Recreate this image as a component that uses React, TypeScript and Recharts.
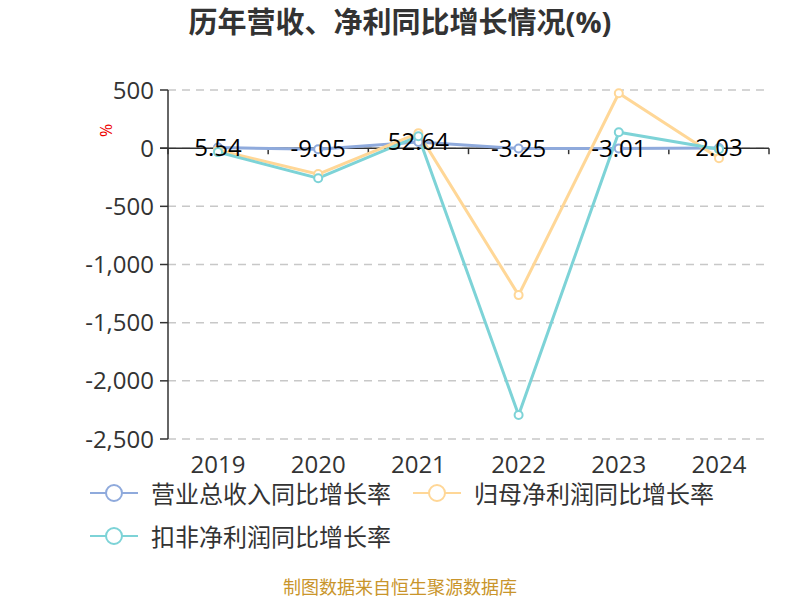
import { LineChart, Line, XAxis, YAxis, CartesianGrid, ReferenceLine, LabelList } from 'recharts';

const years = ['2019', '2020', '2021', '2022', '2023', '2024'];
const revenueGrowth = [5.54, -9.05, 52.64, -3.25, -3.01, 2.03];
const netProfitGrowth = [-17, -223, 129, -1263, 472, -86];
const deductedProfitGrowth = [-34, -258, 103, -2294, 137, -9];
const yTicks = [-2500, -2000, -1500, -1000, -500, 0, 500];

const seriesNames = ['营业总收入同比增长率', '归母净利润同比增长率', '扣非净利润同比增长率'];
const COLORS = ['#8FAADC', '#FFD797', '#7DD3D7'];

const data = years.map((year, i) => ({
    year,
    revenue: revenueGrowth[i],
    netProfit: netProfitGrowth[i],
    deducted: deductedProfitGrowth[i],
}));

const FONT = '"Open Sans", "Noto Sans CJK SC", sans-serif';

const fmt = (v: number) => v.toLocaleString('en-US');

// zero line with tick marks at the band edges
const ZeroAxis = (props: any) => {
    const { x1, x2, y1 } = props;
    const step = (x2 - x1) / years.length;
    const marks = [];
    for (let i = 0; i <= years.length; i++) {
        const x = x1 + step * i;
        marks.push(<line key={i} x1={x} x2={x} y1={y1} y2={y1 + 6} stroke="#333" strokeWidth={1.5} />);
    }
    return (
        <g>
            <line x1={x1 - 8} x2={x2} y1={y1} y2={y1} stroke="#333" strokeWidth={1.5} />
            {marks}
        </g>
    );
};

const ValueLabel = (props: any) => {
    const { x, y, value } = props;
    return (
        <text x={x} y={y} dy={8} textAnchor="middle" fontSize={24} fill="#000" fontFamily={FONT}>
            {value}
        </text>
    );
};

const LegendIcon = ({ color }: { color: string }) => (
    <svg width={48} height={20} style={{ marginRight: 13 }}>
        <line x1={0} x2={48} y1={10} y2={10} stroke={color} strokeWidth={2} />
        <circle cx={24} cy={10} r={8} fill="#fff" stroke={color} strokeWidth={2} />
    </svg>
);

const App = () => {
    return (
        <div style={{ position: 'absolute', left: 0, top: 0, width: 800, height: 600, background: '#fff', fontFamily: FONT }}>
            <div style={{ position: 'absolute', top: 0, width: 800, textAlign: 'center', fontSize: 29, fontWeight: 'bold', color: '#333', lineHeight: '44px' }}>
                历年营收、净利同比增长情况(%)
            </div>
            <LineChart width={800} height={600} data={data} margin={{ top: 90, right: 31, left: 98, bottom: 121 }}>
                <CartesianGrid vertical={false} stroke="#c8c8c8" strokeDasharray="8 6" strokeWidth={1.5} />
                <XAxis
                    dataKey="year"
                    axisLine={false}
                    tickLine={false}
                    height={40}
                    padding={{ left: 50, right: 50 }}
                    tick={{ fontSize: 24, fill: '#333', fontFamily: FONT }}
                    tickMargin={11}
                />
                <YAxis
                    width={70}
                    domain={[-2500, 500]}
                    ticks={yTicks}
                    tickFormatter={fmt}
                    axisLine={{ stroke: '#333', strokeWidth: 1.5 }}
                    tickLine={{ stroke: '#333', strokeWidth: 1.5 }}
                    tickSize={8}
                    tickMargin={6}
                    tick={{ fontSize: 24, fill: '#333', fontFamily: FONT }}
                    label={{ value: '%', angle: -90, position: 'insideTopLeft', fill: '#e00', fontSize: 16, dx: -2, dy: 42 }}
                />
                <ReferenceLine y={0} shape={<ZeroAxis />} />
                <Line dataKey="revenue" stroke={COLORS[0]} strokeWidth={3} isAnimationActive={false}
                    dot={{ r: 4, fill: '#fff', stroke: COLORS[0], strokeWidth: 2 }}>
                </Line>
                <Line dataKey="netProfit" stroke={COLORS[1]} strokeWidth={3} isAnimationActive={false}
                    dot={{ r: 4, fill: '#fff', stroke: COLORS[1], strokeWidth: 2 }} />
                <Line dataKey="deducted" stroke={COLORS[2]} strokeWidth={3} isAnimationActive={false}
                    dot={{ r: 4, fill: '#fff', stroke: COLORS[2], strokeWidth: 2 }} />
                <Line dataKey="revenue" stroke="none" dot={false} activeDot={false} legendType="none" isAnimationActive={false}>
                    <LabelList dataKey="revenue" content={<ValueLabel />} />
                </Line>
            </LineChart>
            <div style={{ position: 'absolute', left: 90, top: 476, width: 710, display: 'flex', flexWrap: 'wrap', rowGap: 10, fontSize: 24, color: '#333' }}>
                {seriesNames.map((name, i) => (
                    <div key={name} style={{ display: 'flex', alignItems: 'center', marginRight: 22, height: 33 }}>
                        <LegendIcon color={COLORS[i]} />
                        {name}
                    </div>
                ))}
            </div>
            <div style={{ position: 'absolute', top: 576, width: 800, textAlign: 'center', fontSize: 18, lineHeight: '22px', color: '#C9952B' }}>
                制图数据来自恒生聚源数据库
            </div>
        </div>
    );
};

export default App;
